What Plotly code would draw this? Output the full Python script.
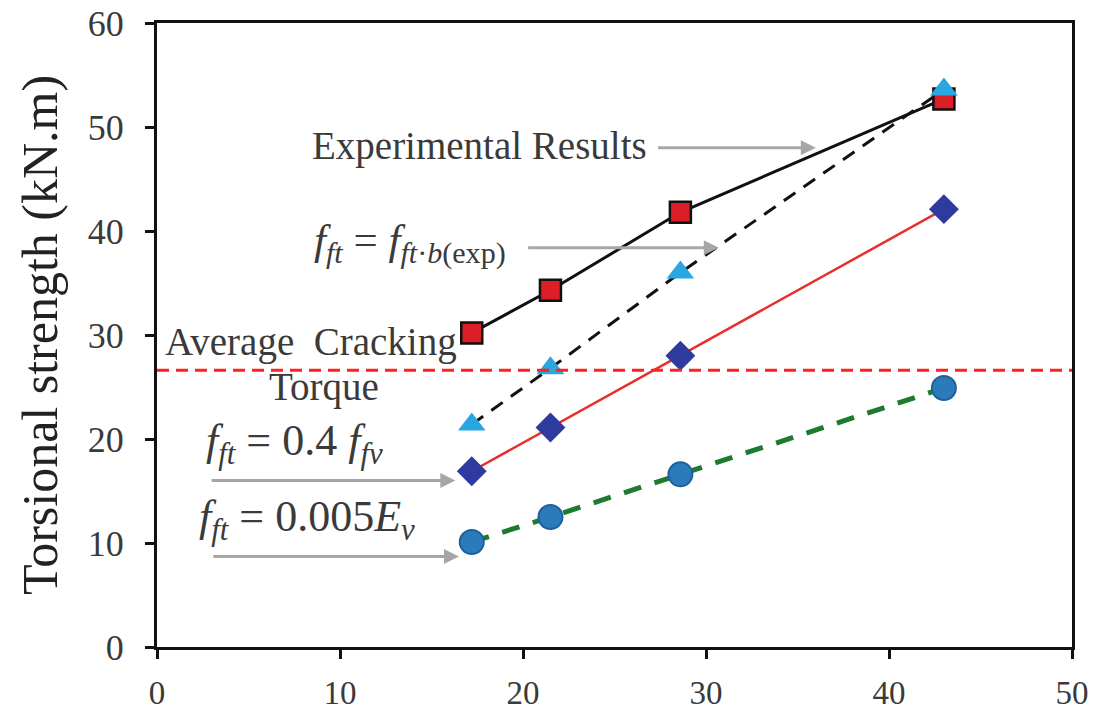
import plotly.graph_objects as go

# Bar-diameter / reinforcement parameter on the x axis
x_vals = [17.2, 21.5, 28.6, 43.0]

# Torsional strength (kN.m)
experimental = [30.2, 34.3, 41.8, 52.7]
ffb_exp = [21.4, 26.8, 36.0, 53.6]
f_04_ffv = [16.9, 21.1, 28.0, 42.1]
f_0005_ev = [10.1, 12.5, 16.6, 24.9]

avg_cracking = 26.6

x_ticks = [0, 10, 20, 30, 40, 50]
y_ticks = [0, 10, 20, 30, 40, 50, 60]

SERIF = "Liberation Serif"
TXT = "#3a3a3a"
ARROW = "#a6a6a6"

fig = go.Figure()

# 0.005 Ev prediction: dark green dashed with blue circles
fig.add_trace(go.Scatter(
    x=x_vals, y=f_0005_ev, mode="lines+markers",
    line=dict(color="#1e7a2e", width=5, dash="18px,14px"),
    marker=dict(symbol="circle", size=24, color="#2b7bbb",
                line=dict(color="#1f5f9c", width=2)),
    showlegend=False))

# 0.4 f_fv prediction: red line with navy diamonds
fig.add_trace(go.Scatter(
    x=x_vals, y=f_04_ffv, mode="lines+markers",
    line=dict(color="#e8302b", width=2.5),
    marker=dict(symbol="diamond", size=23, color="#2e3a9e",
                line=dict(color="#2e3a9e", width=0)),
    showlegend=False))

# Experimental results: black line with red squares
fig.add_trace(go.Scatter(
    x=x_vals, y=experimental, mode="lines+markers",
    line=dict(color="#111111", width=3),
    marker=dict(symbol="square", size=21, color="#dc1f26",
                line=dict(color="#111111", width=2.5)),
    showlegend=False))

# f_ft = f_ftb(exp): black dashed with light-blue triangles
fig.add_trace(go.Scatter(
    x=x_vals, y=ffb_exp, mode="lines+markers",
    line=dict(color="#111111", width=3, dash="14px,10px"),
    marker=dict(symbol="triangle-up", size=24, color="#2aa7e0",
                line=dict(width=0)),
    showlegend=False))

# Average cracking torque reference line
fig.add_shape(type="line", xref="paper", x0=0, x1=1, yref="y",
              y0=avg_cracking, y1=avg_cracking,
              line=dict(color="#ff2020", width=3, dash="12px,7px"))

# Text labels
def label(text, x, y, size=39):
    fig.add_annotation(x=x, y=y, xref="x", yref="y", text=text,
                       showarrow=False, font=dict(family=SERIF, size=size, color=TXT))

def arrow(x0, x1, y):
    fig.add_annotation(x=x1, y=y, ax=x0, ay=y, xref="x", yref="y",
                       axref="x", ayref="y", text="", showarrow=True,
                       arrowhead=2, arrowsize=1, arrowwidth=3, arrowcolor=ARROW)

label("Experimental Results", 17.6, 48.2)
arrow(27.3, 36.0, 48.0)

label("<i>f</i><sub><i>ft</i></sub> = <i>f</i><sub><i>ft</i>·<i>b</i>(exp)</sub>", 13.8, 38.8, 43)
arrow(20.2, 30.7, 38.4)

label("Average  Cracking", 8.4, 29.3)
label("Torque", 9.1, 25.0)

label("<i>f</i><sub><i>ft</i></sub> = 0.4 <i>f</i><sub><i>fv</i></sub>", 7.5, 19.6, 44)
arrow(2.9, 16.3, 16.0)

label("<i>f</i><sub><i>ft</i></sub> = 0.005<i>E</i><sub><i>v</i></sub>", 8.2, 12.3, 44)
arrow(3.0, 16.5, 8.7)

# Y-axis title placed as a rotated annotation
fig.add_annotation(xref="paper", yref="paper", x=-0.128, y=0.5,
                   text="Torsional strength (kN.m)", textangle=-90, showarrow=False,
                   xanchor="center", yanchor="middle",
                   font=dict(family=SERIF, size=50, color="#222222"))

axis_common = dict(showgrid=False, zeroline=False, showline=True, mirror=True,
                   linecolor="#111111", linewidth=3, ticks="outside",
                   ticklen=9, tickwidth=3, tickcolor="#111111", automargin=False)

fig.update_xaxes(range=[0, 50], tickvals=x_ticks, ticklabelstandoff=5,
                 tickfont=dict(family=SERIF, size=33, color=TXT), **axis_common)
fig.update_yaxes(range=[0, 60], tickvals=y_ticks, ticklabelstandoff=14,
                 tickfont=dict(family=SERIF, size=36, color=TXT), **axis_common)

fig.update_layout(width=1098, height=713, plot_bgcolor="white", paper_bgcolor="white",
                  margin=dict(l=157, r=26, t=23, b=66))

fig.write_html("out.html")
